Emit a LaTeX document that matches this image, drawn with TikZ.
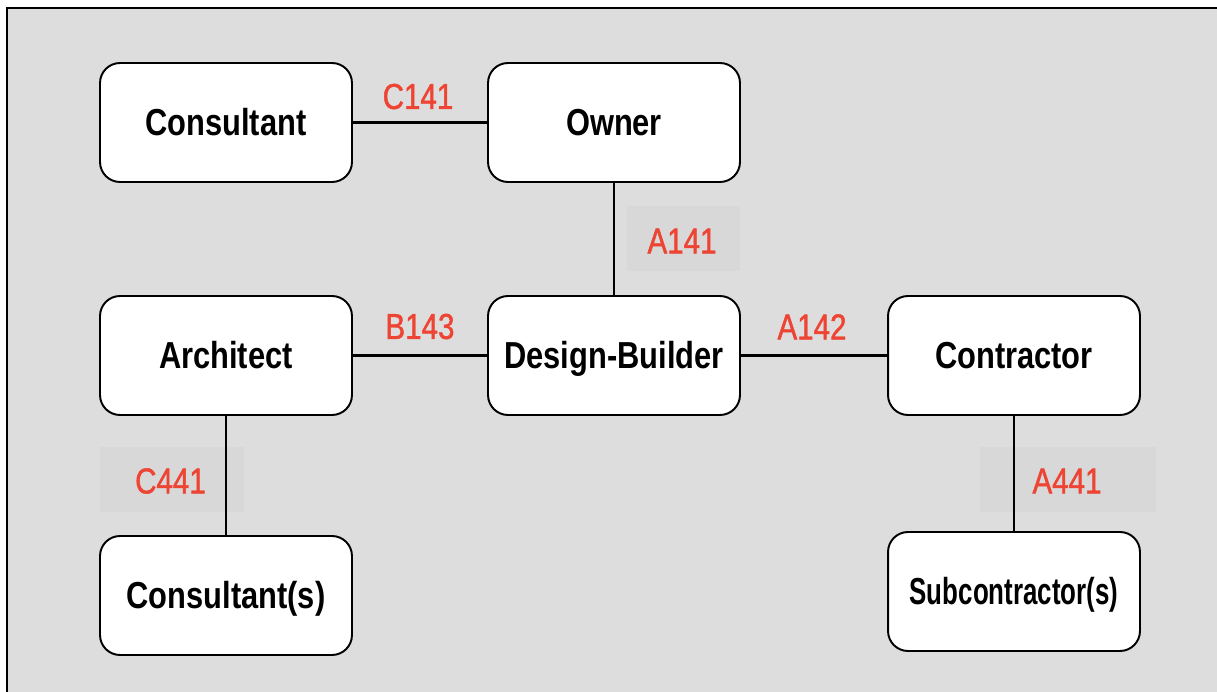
\documentclass[tikz,border=0pt]{standalone}
\usepackage{fontspec}
\usepackage{xcolor}
\setmainfont{Liberation Sans}[FakeStretch=0.82]
\newfontfamily\tagfont{Liberation Sans}[FakeStretch=0.82,FakeBold=1.2]
\usetikzlibrary{arrows.meta}
\definecolor{panel}{HTML}{DDDDDD}
\definecolor{tagbg}{HTML}{D8D8D8}
\definecolor{tagred}{HTML}{EE4433}

\begin{document}
\begin{tikzpicture}[x=0.02cm,y=-0.02cm]
\useasboundingbox (0,0) rectangle (1217,692);
\fill[panel] (7,8) rectangle (1217,692);
\draw[line width=1.4pt] (7,692) -- (7,8) -- (1217,8);

% grey patches behind some of the tags
\fill[tagbg] (627,206) rectangle (740,271);
\fill[tagbg] (100,447) rectangle (244,512);
\fill[tagbg] (980,447) rectangle (1156,512);

\begin{scope}[every node/.style={rectangle,rounded corners=0.4cm,draw,line width=1.1pt,fill=white,
              minimum width=5.04cm,minimum height=2.38cm,text height=15.3pt,text depth=0pt,
              font=\fontsize{21.4}{25}\selectfont\bfseries}]
    \node (Cons) at (226,122.5) {Consultant};
    \node (Owner) at (614,122.5) {Owner};
    \node (Arch) at (226,355.5) {Architect};
    \node (DB) at (614,355.5) {Design-Builder};
    \node (Contr) at (1014,355.5) {Contractor};
    \node (ConsS) at (226,595.5) {Consultant(s)};
    \node (Sub) at (1014,591.5) {\scalebox{0.84}[1]{Subcontractor(s)}};
\end{scope}

\begin{scope}[every edge/.style={draw=black,line width=1.6pt}]
    \path (Cons) edge (Owner);
    \path (Owner) edge (DB);
    \path (Arch) edge (DB);
    \path (DB) edge (Contr);
    \path (Arch) edge (ConsS);
    \path (Contr) edge (Sub);
\end{scope}

\begin{scope}[every node/.style={text=tagred,inner sep=0pt,text height=14.7pt,text depth=0pt,
              font=\fontsize{20.5}{24}\selectfont\tagfont}]
    \node (tC141) at (418,96) {C141};
    \node (tA141) at (682,240.5) {A141};
    \node (tB143) at (420,326) {B143};
    \node (tA142) at (812,326.5) {A142};
    \node (tC441) at (170.5,480.5) {C441};
    \node (tA441) at (1067,480.5) {A441};
\end{scope}
\end{tikzpicture}
\end{document}
